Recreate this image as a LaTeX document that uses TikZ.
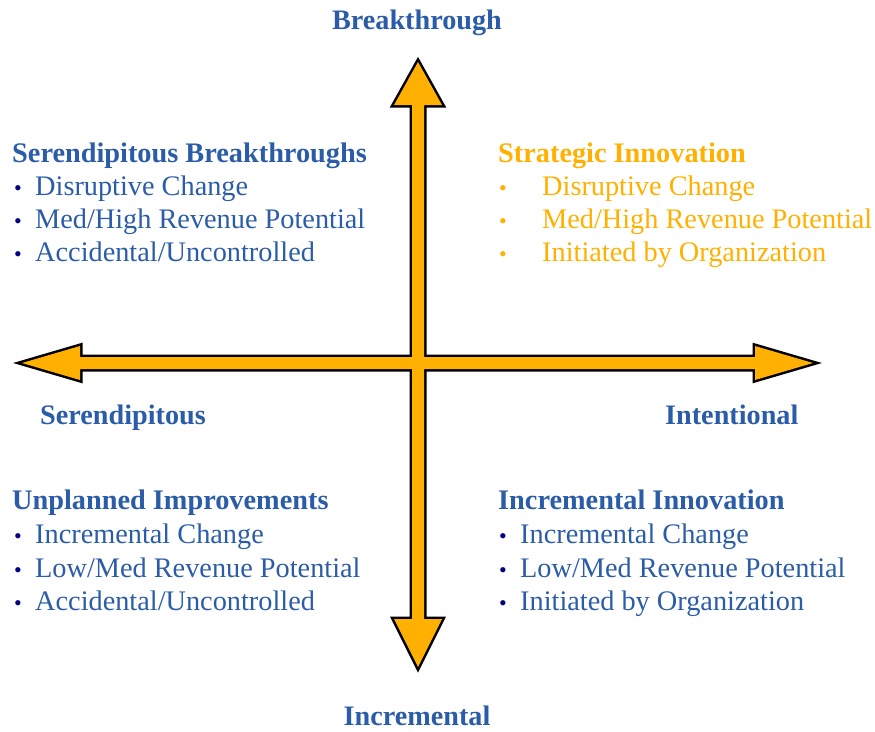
\documentclass[tikz,border=0pt]{standalone}
\usepackage{fontspec}
\setmainfont{Liberation Serif}
\definecolor{txtblue}{HTML}{2B5CA8}
\definecolor{bulnavy}{HTML}{000080}
\definecolor{arrorange}{HTML}{FFB000}
\tikzset{
  axislbl/.style={inner sep=0pt, font=\fontsize{28.2}{32}\selectfont\bfseries, text=txtblue, anchor=base},
  qtitle/.style={inner sep=0pt, font=\fontsize{28.3}{32}\selectfont\bfseries, text=txtblue, anchor=base west},
  qitem/.style={inner sep=0pt, font=\fontsize{28.3}{32}\selectfont, text=txtblue, anchor=base west},
  otitle/.style={qtitle, text=arrorange},
  oitem/.style={qitem, text=arrorange},
}
\newcommand{\bl}[1]{\makebox[#1][l]{\textcolor{bulnavy}{\fontsize{22}{24}\selectfont•}}}
\newcommand{\blo}[1]{\makebox[#1][l]{\fontsize{22}{24}\selectfont•}}
\begin{document}
\begin{tikzpicture}[x=1pt,y=-1pt]
\useasboundingbox (0,0) rectangle (875,731);
% arrow shapes
\def\varrow{(418,62) -- (442,105) -- (424,105) -- (424,619) -- (442,619) -- (418,667) -- (394,619) -- (412,619) -- (412,105) -- (394,105) -- cycle}
\def\harrow{(22,363) -- (80,346) -- (80,357) -- (755,357) -- (755,346) -- (813,363) -- (755,380) -- (755,369) -- (80,369) -- (80,380) -- cycle}
\draw[line width=5pt, line join=miter] \varrow;
\draw[line width=5pt, line join=miter] \harrow;
\fill[arrorange] \varrow;
\fill[arrorange] \harrow;
% axis labels
\node[axislbl] (top) at (417,29) {Breakthrough};
\node[axislbl] (bot) at (417,725) {Incremental};
\node[axislbl, anchor=base west] (left) at (40,424) {Serendipitous};
\node[axislbl, anchor=base west] (right) at (665,424) {Intentional};
% upper left
\node[qtitle] (ult) at (12,162) {Serendipitous Breakthroughs};
\node[qitem] (ul1) at (14,195) {\bl{21pt}Disruptive Change};
\node[qitem] (ul2) at (14,228) {\bl{21pt}Med/High Revenue Potential};
\node[qitem] (ul3) at (14,261) {\bl{21pt}Accidental/Uncontrolled};
% upper right
\node[otitle] (urt) at (498,162) {Strategic Innovation};
\node[oitem] (ur1) at (499,195) {\blo{43pt}Disruptive Change};
\node[oitem] (ur2) at (499,228) {\blo{43pt}Med/High Revenue Potential};
\node[oitem] (ur3) at (499,261) {\blo{43pt}Initiated by Organization};
% lower left
\node[qtitle] (llt) at (12,509) {Unplanned Improvements};
\node[qitem] (ll1) at (14,543) {\bl{21pt}Incremental Change};
\node[qitem] (ll2) at (14,577) {\bl{21pt}Low/Med Revenue Potential};
\node[qitem] (ll3) at (14,610) {\bl{21pt}Accidental/Uncontrolled};
% lower right
\node[qtitle] (lrt) at (498,509) {Incremental Innovation};
\node[qitem] (lr1) at (499,543) {\bl{21pt}Incremental Change};
\node[qitem] (lr2) at (499,577) {\bl{21pt}Low/Med Revenue Potential};
\node[qitem] (lr3) at (499,610) {\bl{21pt}Initiated by Organization};
\end{tikzpicture}
\end{document}
